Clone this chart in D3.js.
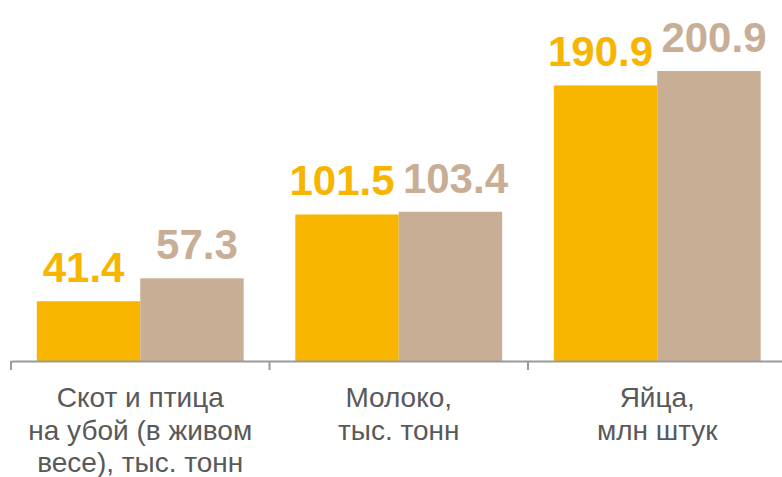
<!DOCTYPE html>
<html>
<head>
<meta charset="utf-8">
<script src="https://cdn.jsdelivr.net/npm/d3@7"></script>
<style>
  body { margin: 0; background: #fff; }
  svg { display: block; font-family: "Liberation Sans", Arial, sans-serif; }
</style>
</head>
<body>
<svg id="chart"></svg>
<script>
// Categories (multi-line labels) and two series
const categories = ['Скот и птица|на убой (в живом|весе), тыс. тонн', 'Молоко,|тыс. тонн', 'Яйца,|млн штук'];
const series = ['prev', 'curr'];
const prevValues = [41.4, 101.5, 190.9];
const currValues = [57.3, 103.4, 200.9];
const colors = ['#F7B500', '#C8AE94'];

const width = 782, height = 477;
const margin = {top: 71, left: 11, bottom: 116};
const baseY = height - margin.bottom; // 361

const svg = d3.select('#chart').attr('width', width).attr('height', height);

const x0 = d3.scaleBand()
    .domain(categories)
    .range([margin.left, margin.left + 258.5 * 3])
    .paddingInner(0)
    .paddingOuter(0);

const x1 = d3.scaleBand()
    .domain(series)
    .range([0, x0.bandwidth()])
    .paddingOuter(0.25);

const y = d3.scaleLinear()
    .domain([0, d3.max(currValues)])
    .range([baseY, margin.top]);

const data = categories.map((c, i) => ({cat: c, vals: [prevValues[i], currValues[i]]}));

const groups = svg.append('g').selectAll('g')
    .data(data)
    .join('g')
    .attr('transform', d => `translate(${x0(d.cat)},0)`);

groups.selectAll('rect')
    .data(d => d.vals.map((v, j) => ({key: series[j], v, j})))
    .join('rect')
    .attr('x', d => x1(d.key))
    .attr('width', x1.bandwidth())
    .attr('y', d => y(d.v))
    .attr('height', d => baseY - y(d.v))
    .attr('fill', d => colors[d.j]);

groups.selectAll('text.val')
    .data(d => d.vals.map((v, j) => ({key: series[j], v, j})))
    .join('text')
    .attr('class', 'val')
    .attr('x', d => x1(d.key) + x1.bandwidth() / 2 + (d.j === 0 ? -5 : 5))
    .attr('y', d => y(d.v) - 19)
    .attr('text-anchor', 'middle')
    .attr('font-size', 42)
    .attr('font-weight', 'bold')
    .attr('fill', d => colors[d.j])
    .text(d => d3.format('.1f')(d.v));

// Axis with ticks between categories
const axisG = svg.append('g')
    .attr('transform', `translate(0,${baseY})`)
    .call(d3.axisBottom(x0).tickValues([]).tickSizeOuter(0).tickSize(0));
axisG.select('.domain').attr('stroke', '#9a9a9a').attr('stroke-width', 2);

const edges = categories.map(c => x0(c)).concat([x0.range()[1]]);
svg.append('g').selectAll('line')
    .data(edges)
    .join('line')
    .attr('x1', d => d).attr('x2', d => d)
    .attr('y1', baseY).attr('y2', baseY + 9)
    .attr('stroke', '#9a9a9a')
    .attr('stroke-width', 2);

// Category labels
const lbl = svg.append('g').selectAll('text')
    .data(categories)
    .join('text')
    .attr('x', d => x0(d) + x0.bandwidth() / 2)
    .attr('y', 407)
    .attr('text-anchor', 'middle')
    .attr('font-size', 28)
    .attr('fill', '#595959');
lbl.selectAll('tspan')
    .data(d => d.split('|'))
    .join('tspan')
    .attr('x', function() { return this.parentNode.getAttribute('x'); })
    .attr('dy', (d, i) => i === 0 ? 0 : 32.5)
    .text(d => d);
</script>
</body>
</html>
